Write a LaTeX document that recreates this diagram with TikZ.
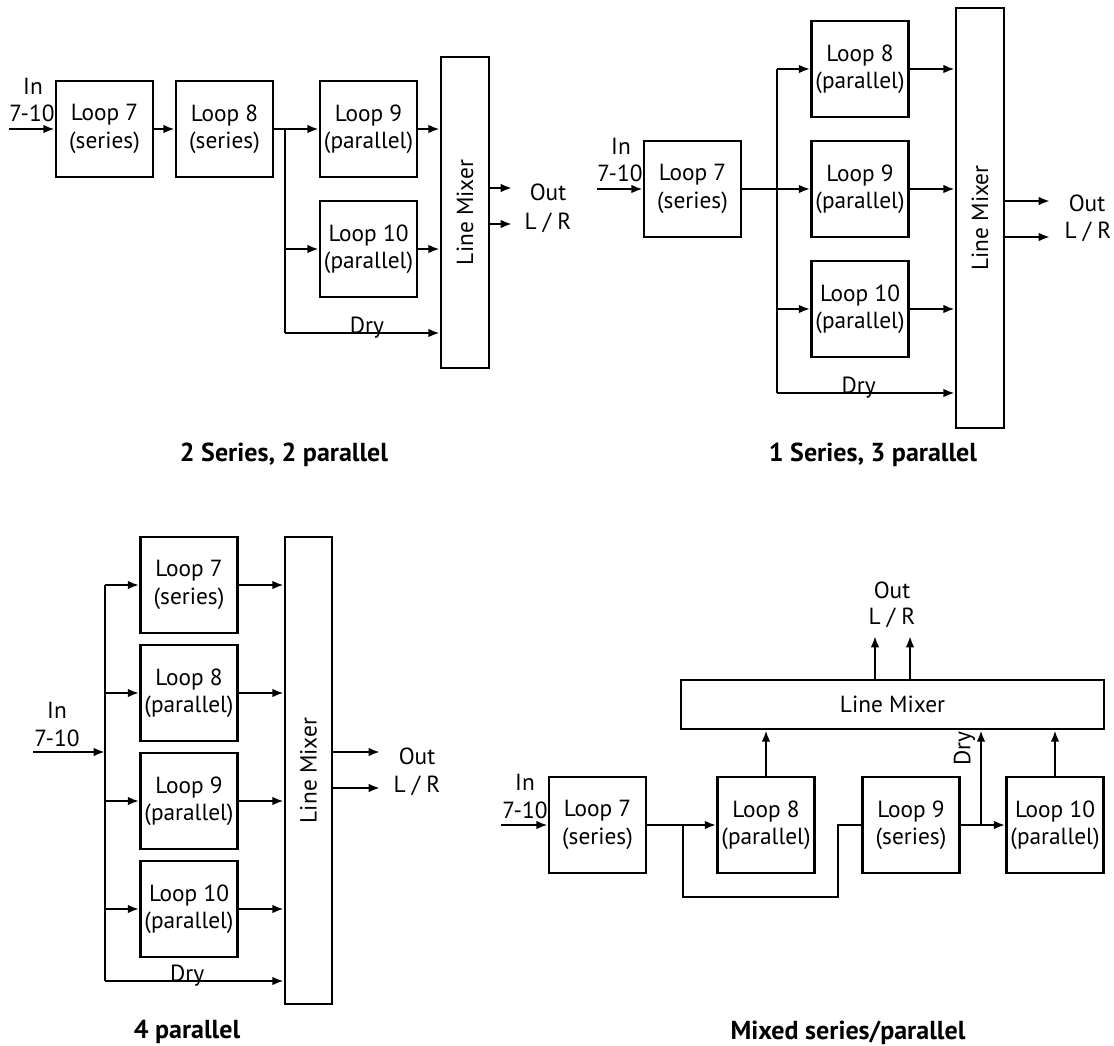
\documentclass[tikz,border=0pt]{standalone}
\usepackage{fontspec}
\setmainfont{PT Sans}
\usetikzlibrary{arrows.meta}
\begin{document}
\begin{tikzpicture}[x=0.75pt, y=-0.75pt, line width=2pt, >={Latex[length=8.5pt,width=6.5pt]},
	font=\fontsize{17.5}{20.5}\selectfont,
	loopbox/.style={draw, align=center, inner sep=0pt, minimum width=72.75pt, minimum height=72pt},
	mixbox/.style={draw, inner sep=0pt},
	caption/.style={font=\fontsize{19.5}{22}\selectfont\bfseries}]
	\useasboundingbox (0,0) rectangle (1114,1046);

	% 2 series, 2 parallel
	\node[loopbox] (p1l7) at (104.5,129) {Loop 7\\(series)};
	\node[loopbox] (p1l8) at (224.5,129) {Loop 8\\(series)};
	\node[loopbox] (p1l9) at (368.5,129) {Loop 9\\(parallel)};
	\node[loopbox] (p1l10) at (368.5,249) {Loop 10\\(parallel)};
	\node[mixbox, minimum width=36pt, minimum height=233.25pt, label={[rotate=90]center:Line Mixer}] (p1mix) at (465,212.5) {};
	\coordinate (p1in) at (9,129);
	\coordinate (p1br) at (285,129);
	\coordinate (p1dry) at (285,333);
	\coordinate (p1o1) at (512,188);
	\coordinate (p1o2) at (512,224);
	\draw[->] (p1in) -- (p1l7.west);
	\draw[->] (p1l7) -- (p1l8);
	\draw (p1l8.east) -- (p1br) -- (p1dry);
	\draw[->] (p1br) -- (p1l9.west);
	\draw[->] (p1br |- p1l10) -- (p1l10.west);
	\draw[->] (p1l9.east) -- (p1l9.east -| p1mix.west);
	\draw[->] (p1l10.east) -- (p1l10.east -| p1mix.west);
	\draw[->] (p1dry) -- (p1dry -| p1mix.west) node[pos=0.53, anchor=base] {Dry};
	\draw[->] (p1o1 -| p1mix.east) -- (p1o1);
	\draw[->] (p1o2 -| p1mix.east) -- (p1o2);
	\path
	(33,86) node {In}
	(32,113) node {7-10}
	(548,192) node {Out}
	(548,223) node {L / R}
	(284,455) node[caption] {2 Series, 2 parallel};

	% 1 series, 3 parallel
	\node[loopbox] (p2l7) at (692.5,189) {Loop 7\\(series)};
	\node[loopbox] (p2l8) at (860,69) {Loop 8\\(parallel)};
	\node[loopbox] (p2l9) at (860,189) {Loop 9\\(parallel)};
	\node[loopbox] (p2l10) at (860,309) {Loop 10\\(parallel)};
	\node[mixbox, minimum width=36pt, minimum height=315pt, label={[rotate=90]center:Line Mixer}] (p2mix) at (980,218) {};
	\coordinate (p2in) at (597,189);
	\coordinate (p2top) at (777,69);
	\coordinate (p2dry) at (777,393);
	\coordinate (p2o1) at (1050,201);
	\coordinate (p2o2) at (1050,237);
	\draw[->] (p2in) -- (p2l7.west);
	\draw (p2l7.east) -- (p2l7.east -| p2top);
	\draw (p2top) -- (p2dry);
	\draw[->] (p2top) -- (p2l8.west);
	\draw[->] (p2top |- p2l9) -- (p2l9.west);
	\draw[->] (p2top |- p2l10) -- (p2l10.west);
	\draw[->] (p2l8.east) -- (p2l8.east -| p2mix.west);
	\draw[->] (p2l9.east) -- (p2l9.east -| p2mix.west);
	\draw[->] (p2l10.east) -- (p2l10.east -| p2mix.west);
	\draw[->] (p2dry) -- (p2dry -| p2mix.west) node[pos=0.46, anchor=base] {Dry};
	\draw[->] (p2o1 -| p2mix.east) -- (p2o1);
	\draw[->] (p2o2 -| p2mix.east) -- (p2o2);
	\path
	(621,146) node {In}
	(620,173) node {7-10}
	(1087,203) node {Out}
	(1088,232) node {L / R}
	(873,455) node[caption] {1 Series, 3 parallel};

	% 4 parallel
	\node[loopbox] (p3l7) at (189,585) {Loop 7\\(series)};
	\node[loopbox] (p3l8) at (189,693) {Loop 8\\(parallel)};
	\node[loopbox] (p3l9) at (189,801) {Loop 9\\(parallel)};
	\node[loopbox] (p3l10) at (189,909) {Loop 10\\(parallel)};
	\node[mixbox, minimum width=35.25pt, minimum height=350.25pt, label={[rotate=90]center:Line Mixer}] (p3mix) at (308.5,770.5) {};
	\coordinate (p3in) at (33,752);
	\coordinate (p3top) at (105,585);
	\coordinate (p3dry) at (105,981);
	\coordinate (p3o1) at (380,752);
	\coordinate (p3o2) at (380,788);
	\draw (p3top) -- (p3dry);
	\draw[->] (p3in) -- (p3in -| p3top);
	\draw[->] (p3top) -- (p3l7.west);
	\draw[->] (p3top |- p3l8) -- (p3l8.west);
	\draw[->] (p3top |- p3l9) -- (p3l9.west);
	\draw[->] (p3top |- p3l10) -- (p3l10.west);
	\draw[->] (p3l7.east) -- (p3l7.east -| p3mix.west);
	\draw[->] (p3l8.east) -- (p3l8.east -| p3mix.west);
	\draw[->] (p3l9.east) -- (p3l9.east -| p3mix.west);
	\draw[->] (p3l10.east) -- (p3l10.east -| p3mix.west);
	\draw[->] (p3dry) -- (p3dry -| p3mix.west) node[pos=0.46, anchor=base] {Dry};
	\draw[->] (p3o1 -| p3mix.east) -- (p3o1);
	\draw[->] (p3o2 -| p3mix.east) -- (p3o2);
	\path
	(57,710) node {In}
	(57,738) node {7-10}
	(417,756) node {Out}
	(417,786) node {L / R}
	(187,1032) node[caption] {4 parallel};

	% mixed series/parallel
	\node[loopbox] (p4l7) at (597.5,825) {Loop 7\\(series)};
	\node[loopbox] (p4l8) at (766,825) {Loop 8\\(parallel)};
	\node[loopbox] (p4l9) at (911,825) {Loop 9\\(series)};
	\node[loopbox] (p4l10) at (1055,825) {Loop 10\\(parallel)};
	\node[mixbox, minimum width=317.25pt, minimum height=36.75pt] (p4mix) at (892.5,704.5) {Line Mixer};
	\coordinate (p4in) at (501,825);
	\coordinate (p4br) at (683,825);
	\coordinate (p4lo) at (683,897);
	\coordinate (p4up) at (838,897);
	\coordinate (p4dry) at (981,825);
	\coordinate (p4o1) at (875,636);
	\coordinate (p4o2) at (910,636);
	\draw[->] (p4in) -- (p4l7.west);
	\draw[->] (p4l7) -- (p4l8);
	\draw (p4br) -- (p4lo) -- (p4up) -- (p4up |- p4l9) -- (p4l9.west);
	\draw[->] (p4l8.north) -- (p4l8.north |- p4mix.south);
	\draw[->] (p4l9) -- (p4l10);
	\draw[->] (p4dry) -- (p4dry |- p4mix.south) node[pos=0.81, rotate=90, anchor=south] {Dry};
	\draw[->] (p4l10.north) -- (p4l10.north |- p4mix.south);
	\draw[->] (p4o1 |- p4mix.north) -- (p4o1);
	\draw[->] (p4o2 |- p4mix.north) -- (p4o2);
	\path
	(525,782) node {In}
	(525,810) node {7-10}
	(892,590) node {Out}
	(892,618) node {L / R}
	(848,1033) node[caption] {Mixed series/parallel};
\end{tikzpicture}
\end{document}
